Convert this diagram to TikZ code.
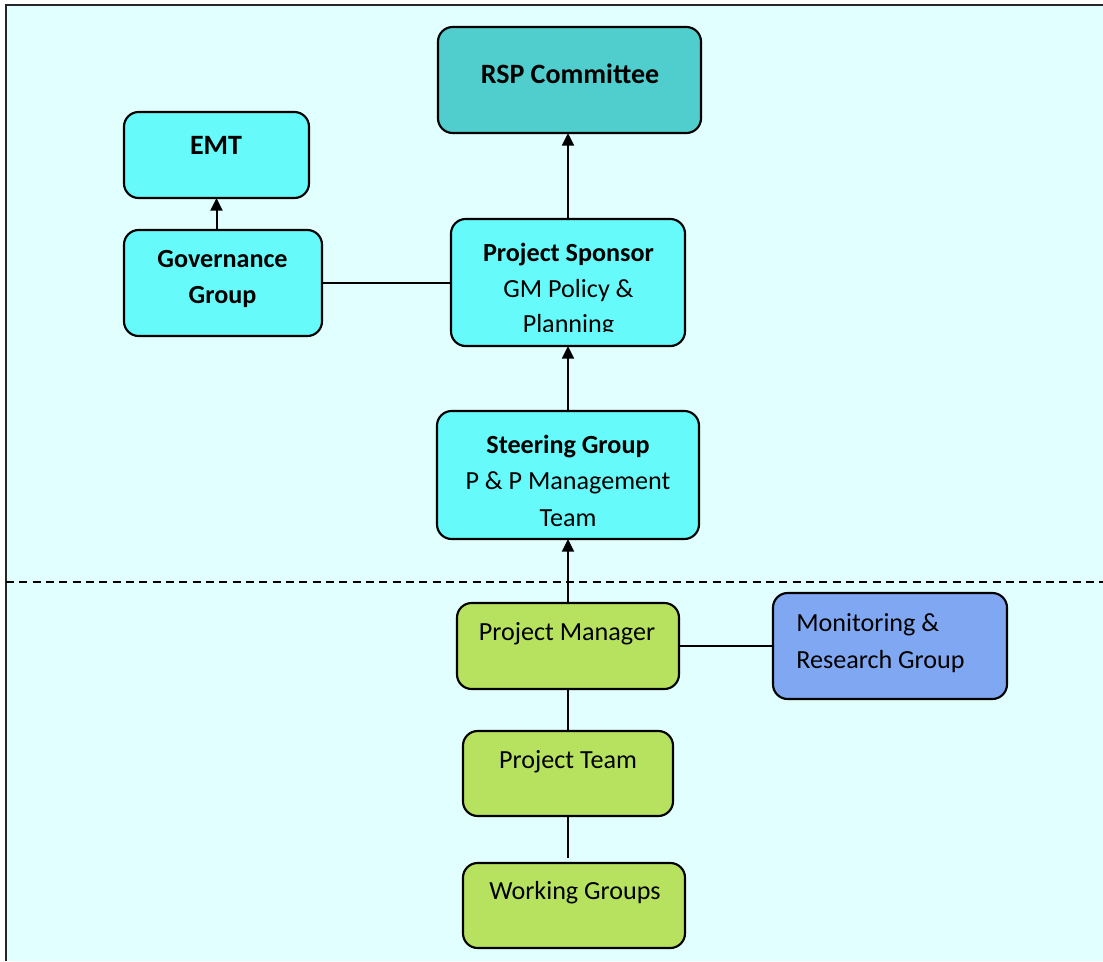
\documentclass[tikz,border=0pt]{standalone}
\usepackage{fontspec}
\setmainfont{Carlito}
\usetikzlibrary{arrows.meta}
\definecolor{bgc}{RGB}{226,255,255}
\definecolor{cyanbox}{RGB}{102,250,250}
\definecolor{tealbox}{RGB}{80,206,206}
\definecolor{greenbox}{RGB}{182,226,96}
\definecolor{bluebox}{RGB}{128,168,242}
\begin{document}
\begin{tikzpicture}[x=0.75pt,y=-0.75pt,
  box/.style={draw=black, line width=1.6pt, rounded corners=11pt, inner sep=0pt, outer sep=0pt},
  sz/.style 2 args={minimum width=#1*0.75pt, minimum height=#2*0.75pt},
  txt/.style={font=\fontsize{19.6}{27.4}\selectfont, align=center, inner sep=0pt},
  bigtxt/.style={font=\fontsize{21}{28}\selectfont\bfseries, align=center, inner sep=0pt},
  conn/.style={line width=1.5pt, draw=black},
  arr/.style={conn, -{Triangle[length=9.5pt,width=9pt]}}]
\useasboundingbox (0,0) rectangle (1103,961);
\fill[bgc] (6,5) rectangle (1103,961);
\draw[line width=1.6pt, black!85] (6,961) -- (6,5) -- (1103,5);
% boxes
\node[box, fill=tealbox, sz={263}{106}] (rsp) at (569.5,80) {};
\node[box, fill=cyanbox, sz={185}{86}] (emt) at (216.5,155) {};
\node[box, fill=cyanbox, sz={198}{106}] (gov) at (223,283) {};
\node[box, fill=cyanbox, sz={234}{127}] (spon) at (568,282.5) {};
\node[box, fill=cyanbox, sz={262}{128}] (steer) at (568,475) {};
\node[box, fill=greenbox, sz={222}{86}] (pm) at (568,646) {};
\node[box, fill=bluebox, sz={234}{106}] (mon) at (890,646) {};
\node[box, fill=greenbox, sz={210}{85}] (team) at (568,773.5) {};
\node[box, fill=greenbox, sz={222}{85}] (work) at (574,905.5) {};
% texts
\node[bigtxt] (rsptext) at (570,74) {RSP Committee};
\node[bigtxt] (emttext) at (216,145) {EMT};
\node[txt, font=\fontsize{19.6}{27}\selectfont\bfseries] (govtext) at (222.5,279) {Governance\\Group};
\begin{scope}
  \clip (451,219) rectangle (686,331);
  \node[txt, font=\fontsize{19.6}{26.6}\selectfont] (spontext) at (568.5,290.5) {\textbf{Project Sponsor}\\GM Policy \&\\Planning};
\end{scope}
\node[txt, font=\fontsize{19.6}{27.4}\selectfont] (steertext) at (568,480.5) {\textbf{Steering Group}\\P \& P Management\\Team};
\node[txt] (pmtext) at (567,634) {Project Manager};
\node[txt, font=\fontsize{19.6}{27.75}\selectfont, align=left, anchor=west] (montext) at (796,643.5) {Monitoring \&\\Research Group};
\node[txt] (teamtext) at (568,762) {Project Team};
\node[txt] (worktext) at (575,893) {Working Groups};
% connectors
\draw[arr] (emt.south |- gov.north) -- (emt.south);
\draw[conn] (gov.east) -- (gov.east -| spon.west);
\draw[arr] (spon.north) -- (spon.north |- rsp.south);
\draw[arr] (steer.north) -- (steer.north |- spon.south);
\draw[arr] (pm.north) -- (pm.north |- steer.south);
\draw[conn] (pm.east) -- (pm.east -| mon.west);
\draw[conn] (pm.south) -- (pm.south |- team.north);
\draw[conn, shorten >=3.75pt] (team.south) -- (team.south |- work.north);
% dashed separator
\coordinate (dl) at (6,582);
\coordinate (dr) at (1103,582);
\draw[line width=1pt, dash pattern=on 6pt off 4pt] (dl) -- (dr);
\end{tikzpicture}
\end{document}
